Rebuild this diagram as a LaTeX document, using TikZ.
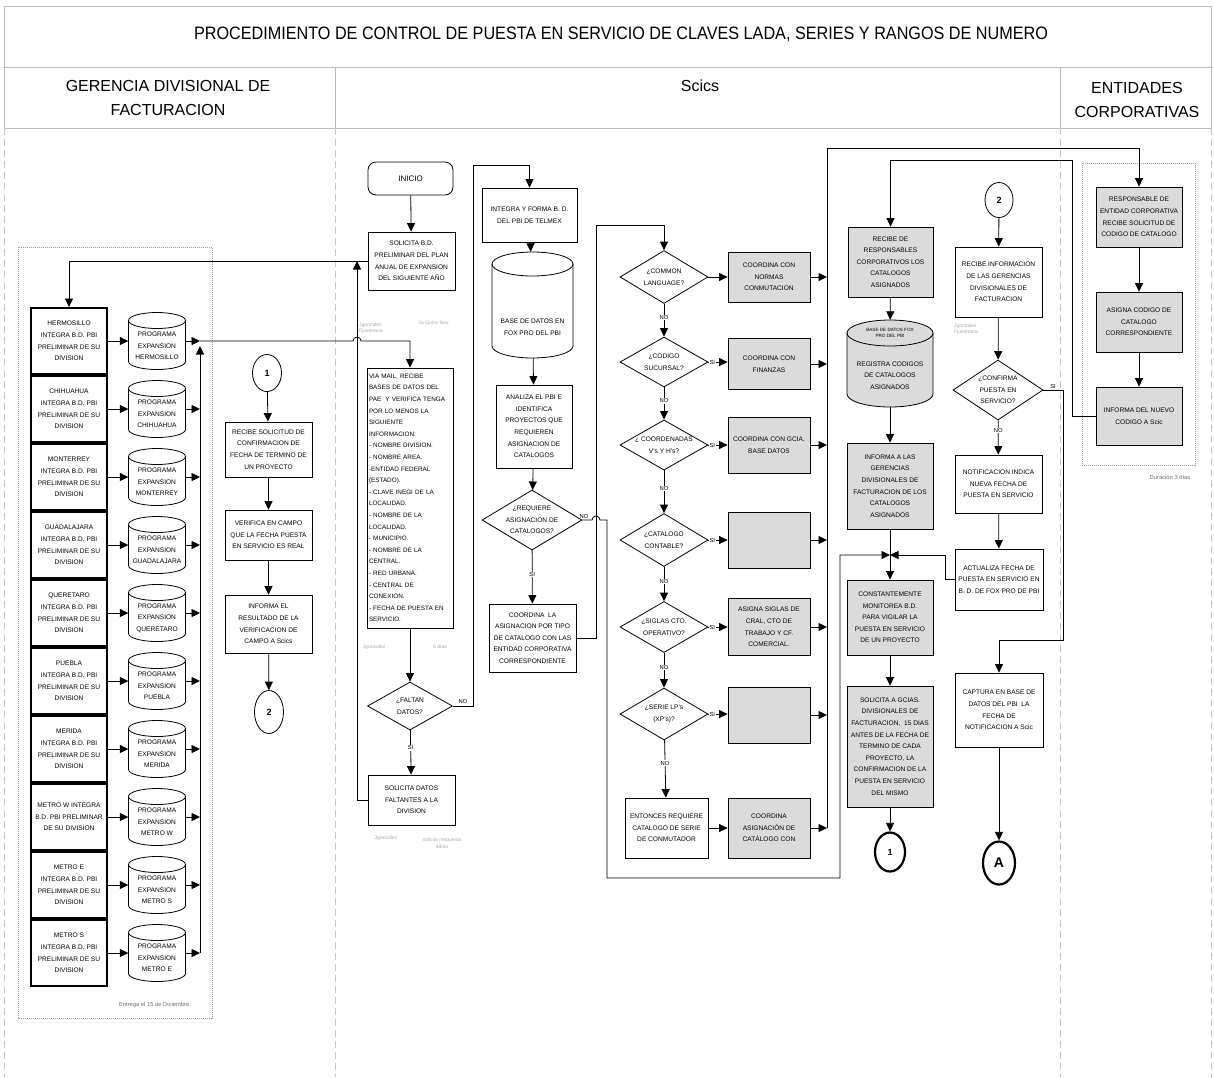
\documentclass[tikz,border=0pt]{standalone}
\usepackage{fontspec}
\usepackage{graphicx}
\setmainfont{Liberation Sans}
\usetikzlibrary{arrows.meta,shapes.geometric}

% database drum: name, cx, cy, width, height, cap radius, fill, text drop, text
\newcommand{\dbcyl}[9]{%
  \draw[line width=0.8pt, fill=#7] (#2-#4/2,#3-#5/2+#6) -- (#2-#4/2,#3+#5/2-#6)
    arc[start angle=180,end angle=360,x radius=#4pt/2,y radius=#6pt]
    -- (#2+#4/2,#3-#5/2+#6)
    arc[start angle=0,end angle=180,x radius=#4pt/2,y radius=#6pt] -- cycle;
  \draw[line width=0.8pt] (#2-#4/2,#3-#5/2+#6)
    arc[start angle=180,end angle=360,x radius=#4pt/2,y radius=#6pt];
  \node[minimum width=#4pt,minimum height=#5pt,inner sep=0pt] (#1) at (#2,#3) {};
  \node[align=center] at (#2,#3+#8) {#9};
}

\tikzset{
  box/.style={draw, line width=0.8pt, fill=white, align=center, inner sep=1.5pt},
  gbox/.style={box, fill=gray!28},
  tbox/.style={box, line width=2pt},
  dia/.style={draw, diamond, shape aspect=1.7, inner sep=0pt, line width=0.8pt, fill=white, align=center},
  conn/.style={draw, ellipse, inner sep=0pt, line width=0.8pt, fill=white, font=\fontsize{9}{9}\selectfont\bfseries},
  tconn/.style={conn, line width=2.2pt},
  arr/.style={line width=0.8pt, -{Triangle[length=8.5pt,width=8pt]}},
  ln/.style={line width=0.8pt},
  lbl/.style={font=\fontsize{5.8}{6}\selectfont, inner sep=0.6pt, fill=white},
  note/.style={font=\fontsize{5}{6.5}\selectfont, text=gray!70, align=left, inner sep=0pt},
  dnote/.style={font=\fontsize{5.8}{6.5}\selectfont, text=gray!85!black, inner sep=0pt},
  grp/.style={draw=gray!75, densely dotted, line width=1pt},
  lanehead/.style={font=\fontsize{16}{24}\selectfont, align=center},
  frame/.style={draw=gray!55, line width=0.8pt},
  lane/.style={draw=gray!45, line width=0.7pt, dash pattern=on 7pt off 4pt},
}

\begin{document}
\begin{tikzpicture}[x=1pt,y=-1pt, every node/.append style={font=\fontsize{6.6}{11.6}\selectfont}]
\useasboundingbox (0,0) rectangle (1214,1077);

% ---------- frame and lane headers ----------
\draw[frame] (4,6) -- (1211,6) (4,67) -- (1211,67) (4,128) -- (1211,128)
  (4,6) -- (4,128) (1211,6) -- (1211,128) (335,67) -- (335,128) (1060,67) -- (1060,128);
\draw[lane] (4,128) -- (4,1077) (335,128) -- (335,1077) (1060,128) -- (1060,1077) (1211,128) -- (1211,1077);

\node[font=\fontsize{18}{18}\selectfont] (title) at (621,34)
  {\scalebox{0.9}[1]{PROCEDIMIENTO DE CONTROL DE PUESTA EN SERVICIO DE CLAVES LADA, SERIES Y RANGOS DE NUMERO}};
\node[lanehead] (h1) at (168,98) {GERENCIA DIVISIONAL DE\\FACTURACION};
\node[lanehead] (h2) at (700,86) {Scics};
\node[lanehead] (h3) at (1137,100) {ENTIDADES\\CORPORATIVAS};

% ---------- divisional billing offices ----------
\draw[grp] (18,247) rectangle (212,1018);
\node[dnote] (entrega) at (155,1005) {Entrega el 15 de Diciembre.};

\foreach \i/\nm in {0/HERMOSILLO,1/CHIHUAHUA,2/MONTERREY,3/GUADALAJARA,4/QUERETARO,5/PUEBLA,6/MERIDA,8/METRO E,9/METRO S}{
  \node[tbox, minimum width=76pt, minimum height=66pt] (r\i) at (69,{341+68*\i})
    {\nm\\INTEGRA B.D. PBI\\PRELIMINAR DE SU\\DIVISION};
}
\node[tbox, minimum width=76pt, minimum height=66pt] (r7) at (69,817)
  {METRO W INTEGRA\\B.D. PBI PRELIMINAR\\DE SU DIVISION};

\foreach \i/\cn in {0/HERMOSILLO,1/CHIHUAHUA,2/MONTERREY,3/GUADALAJARA,4/QUERETARO,5/PUEBLA,6/MERIDA,7/METRO W,8/METRO S,9/METRO E}{
  \pgfmathsetmacro\yy{341+68*\i}
  \dbcyl{cy\i}{157}{\yy}{57}{57}{8}{white}{5}{PROGRAMA\\EXPANSION\\\cn}
}

\coordinate (bus) at (200,341);
\coordinate (busb) at (200,953);
\foreach \i in {0,...,9}{
  \draw[arr] (r\i.east) -- (cy\i.west);
  \draw[arr] (cy\i.east) -- (cy\i.east -| bus);
}
\draw[arr] (busb) -- ([yshift=-5pt]bus);

% field verification branch
\node[conn, minimum width=29pt, minimum height=37pt] (c1a) at (267,373) {1};
\node[box, minimum width=87pt, minimum height=55pt] (recsol) at (268.5,449.5)
  {RECIBE SOLICITUD DE\\CONFIRMACION DE\\FECHA DE TERMINO DE\\UN PROYECTO};
\node[box, minimum width=87pt, minimum height=50pt] (verif) at (268.5,535)
  {VERIFICA EN CAMPO\\QUE LA FECHA PUESTA\\EN SERVICIO ES REAL};
\node[box, minimum width=87pt, minimum height=58pt] (infres) at (268.5,624)
  {INFORMA EL\\RESULTADO DE LA\\VERIFICACION DE\\CAMPO A Scics};
\node[conn, minimum width=29pt, minimum height=43pt] (c2a) at (269,712) {2};
\draw[arr] (c1a) -- (recsol);
\draw[arr] (recsol) -- (verif);
\draw[arr] (verif) -- (infres);
\draw[arr] (infres) -- (c2a);

% ---------- Scics: request and validation ----------
\node[box, rounded corners=8pt, minimum width=85pt, minimum height=33pt, font=\fontsize{8}{9}\selectfont] (inicio) at (410.5,178.5) {INICIO};
\node[box, minimum width=87pt, minimum height=58pt] (solbd) at (411.5,261)
  {SOLICITA B.D.\\PRELIMINAR DEL PLAN\\ANUAL DE EXPANSION\\DEL SIGUIENTE AÑO};
\node[note] (n1) at (371,328) {Jgonzalez\\Fjuestrana};
\node[note] (n2) at (434,323) {2a Quinc Nov.};

\node[box, minimum width=86pt, minimum height=260pt, align=left, text width=82pt, inner sep=2pt,
      font=\fontsize{6.35}{11.6}\selectfont] (viamail) at (410,498)
  {VIA MAIL, RECIBE\\BASES DE DATOS DEL\\PAE\ \ Y VERIFICA TENGA\\POR LO MENOS LA\\SIGUIENTE\\INFORMACION:\\
   - NOMBRE DIVISION.\\- NOMBRE AREA.\\-ENTIDAD FEDERAL\\(ESTADO).\\- CLAVE INEGI DE LA\\LOCALIDAD.\\
   - NOMBRE DE LA\\LOCALIDAD.\\- MUNICIPIO.\\- NOMBRE DE LA\\CENTRAL.\\- RED URBANA.\\- CENTRAL DE\\CONEXION.\\
   - FECHA DE PUESTA EN\\SERVICIO.};
\node[note] (n3) at (374,647) {Jgonzalez};
\node[note] (n4) at (440,647) {5 días};

\node[dia, minimum width=85pt, minimum height=48pt] (faltan) at (410,706) {¿FALTAN\\DATOS?};
\node[box, minimum width=87pt, minimum height=50pt] (soldf) at (411.5,800)
  {SOLICITA DATOS\\FALTANTES A LA\\DIVISION};
\node[note] (n5) at (386,838) {Jgonzalez};
\node[note, align=center] (n6) at (442,843) {solicita respuesta\\4días};

\coordinate (j1) at (357,261);
\coordinate (bp1) at (357,341);
\coordinate (k1) at (473,165);

\draw[arr] (inicio) -- (solbd);
\draw[arr] (solbd.west) -| (r0.north);
\draw[arr] (soldf.west) -| (j1);
\draw[arr] (bus) -- ([xshift=-4pt]bp1) arc[start angle=180,end angle=0,radius=4pt] -| (viamail.north);
\draw[arr] (viamail) -- (faltan);
\draw[arr] (faltan) -- node[lbl, pos=0.4]{SI} (soldf);
\node[lbl, fill=none] (nofal) at (463,701) {NO};

% ---------- Scics: national PBI database ----------
\node[box, minimum width=95pt, minimum height=54pt] (integra) at (529.5,215)
  {INTEGRA Y FORMA B. D.\\DEL PBI DE TELMEX};
\dbcyl{dbfox}{532.5}{305}{81}{106}{12}{white}{22}{BASE DE DATOS EN\\FOX PRO DEL PBI}
\node[box, minimum width=76pt, minimum height=83pt] (analiza) at (534,426.5)
  {ANALIZA EL PBI E\\IDENTIFICA\\PROYECTOS QUE\\REQUIEREN\\ASIGNACION DE\\CATALOGOS};
\node[dia, minimum width=85pt, minimum height=60pt] (requiere) at (532,520)
  {¿REQUIERE\\ASIGNACION DE\\CATALOGOS?};
\node[box, minimum width=87pt, minimum height=68pt] (coordasig) at (532.5,638)
  {COORDINA\ \ LA\\ASIGNACION POR TIPO\\DE CATALOGO CON LAS\\ENTIDAD CORPORATIVA\\CORRESPONDIENTE};

\draw[arr] (faltan.east) -| (k1) -| (integra.north);
\draw[arr] (integra) -- (dbfox);
\draw[arr] (dbfox) -- (analiza);
\draw[arr] (analiza) -- (requiere);
\draw[arr] (requiere) -- node[lbl, pos=0.45]{SI} (coordasig);
\node[lbl, fill=none] (noreq) at (584,516) {NO};

% ---------- Scics: catalogue type decisions ----------
\node[dia, minimum width=88pt, minimum height=53pt] (d1) at (664,277) {¿COMMON\\LANGUAGE?};
\node[dia, minimum width=88pt, minimum height=50pt] (d2) at (664,362) {¿CODIGO\\SUCURSAL?};
\node[dia, minimum width=88pt, minimum height=50pt] (d3) at (664,445) {¿ COORDENADAS\\V's Y H's?};
\node[dia, minimum width=88pt, minimum height=53pt] (d4) at (664,540) {¿CATALOGO\\CONTABLE?};
\node[dia, minimum width=88pt, minimum height=51pt] (d5) at (664,627) {¿SIGLAS CTO.\\OPERATIVO?};
\node[dia, minimum width=88pt, minimum height=52pt] (d6) at (664,714) {¿SERIE LP's\\(XP's)?};
\node[box, minimum width=83pt, minimum height=60pt] (entonces) at (666.5,828)
  {ENTONCES REQUIERE\\CATALOGO DE SERIE\\DE CONMUTADOR};

\node[gbox, minimum width=82pt, minimum height=50pt] (b1) at (769,277) {COORDINA CON\\NORMAS\\CONMUTACION};
\node[gbox, minimum width=82pt, minimum height=51pt] (b2) at (769,364) {COORDINA CON\\FINANZAS};
\node[gbox, minimum width=82pt, minimum height=56pt] (b3) at (769,445) {COORDINA CON GCIA.\\BASE DATOS};
\node[gbox, minimum width=82pt, minimum height=56pt] (b4) at (769,540) {};
\node[gbox, minimum width=82pt, minimum height=57pt] (b5) at (769,627) {ASIGNA SIGLAS DE\\CRAL, CTO DE\\TRABAJO Y CF.\\COMERCIAL.};
\node[gbox, minimum width=82pt, minimum height=56pt] (b6) at (769,715) {};
\node[gbox, minimum width=82pt, minimum height=60pt] (b7) at (769,828) {COORDINA\\ASIGNACIÓN DE\\CATÁLOGO CON};

\coordinate (k2) at (596,225);
\coordinate (bp2) at (596,520);
\coordinate (k3) at (607,520);
\coordinate (k4) at (607,878);
\coordinate (k5) at (840,878);
\coordinate (vtop) at (827,148);
\coordinate (vbot) at (827,828);
\coordinate (m) at (890,555);

\draw[arr] (coordasig.east) -| (k2) -| (d1.north);
\draw[arr] (requiere.east) -- ([xshift=-4pt]bp2) arc[start angle=180,end angle=0,radius=4pt]
  -- (k3) -- (k4) -- (k5) |- (m);

\draw[arr] (d1) -- (b1);
\draw[arr] (d1) -- node[lbl, pos=0.42]{NO} (d2);
\draw[arr] (d2) -- node[lbl, pos=0.42]{NO} (d3);
\draw[arr] (d3) -- node[lbl, pos=0.42]{NO} (d4);
\draw[arr] (d4) -- node[lbl, pos=0.42]{NO} (d5);
\draw[arr] (d5) -- node[lbl, pos=0.42]{NO} (d6);
\draw[arr] (d6) -- node[lbl, pos=0.4]{NO} (entonces);
\foreach \d/\b in {d2/b2,d3/b3,d4/b4,d5/b5,d6/b6}{
  \draw[arr] (\d.east) -- node[lbl, pos=0.2]{SI} (\d.east -| \b.west);
}
\draw[arr] (entonces) -- (b7);
\foreach \b in {b1,b2,b3,b4,b5,b6}{
  \draw[arr] (\b.east) -- (\b.east -| vtop);
}
\draw[arr] (b7.east) -- (vbot);

% ---------- Scics: catalogue registration and follow-up ----------
\node[gbox, minimum width=85pt, minimum height=70pt] (recresp) at (890.5,262)
  {RECIBE DE\\RESPONSABLES\\CORPORATIVOS LOS\\CATALOGOS\\ASIGNADOS};
\dbcyl{regcyl}{890}{363.5}{86}{87}{13}{gray!28}{12}{REGISTRA CODIGOS\\DE CATALOGOS\\ASIGNADOS}
\node[font=\fontsize{4.6}{5.6}\selectfont, align=center, inner sep=0pt] (regtop) at (890,333) {BASE DE DATOS FOX\\PRO DEL PBI};
\node[gbox, minimum width=86pt, minimum height=86pt] (infger) at (890,486)
  {INFORMA A LAS\\GERENCIAS\\DIVISIONALES DE\\FACTURACION DE LOS\\CATALOGOS\\ASIGNADOS};
\node[gbox, minimum width=86pt, minimum height=75pt] (constant) at (890,617.5)
  {CONSTANTEMENTE\\MONITOREA B.D.\\PARA VIGILAR LA\\PUESTA EN SERVICIO\\DE UN PROYECTO};
\node[gbox, minimum width=86pt, minimum height=121pt] (solgcias) at (890,746.5)
  {SOLICITA A GCIAS.\\DIVISIONALES DE\\FACTURACION,\ \ 15 DIAS\\ANTES DE LA FECHA DE\\TERMINO DE CADA\\PROYECTO, LA\\CONFIRMACION DE LA\\PUESTA EN SERVICIO\\DEL MISMO};
\node[tconn, minimum width=30pt, minimum height=39pt] (c1b) at (890,852) {1};

\node[conn, minimum width=28pt, minimum height=35pt] (c2b) at (999,200) {2};
\node[box, minimum width=87pt, minimum height=70pt] (recinf) at (998.5,282)
  {RECIBE INFORMACION\\DE LAS GERENCIAS\\DIVISIONALES DE\\FACTURACION};
\node[note] (n7) at (966,329) {Jgonzalez\\Fjuestrana};
\node[dia, minimum width=90pt, minimum height=60pt] (confirma) at (998,390)
  {¿CONFIRMA\\PUESTA EN\\SERVICIO?};
\node[box, minimum width=87pt, minimum height=58pt] (notif) at (998.5,484)
  {NOTIFICACION INDICA\\NUEVA FECHA DE\\PUESTA EN SERVICIO};
\node[box, minimum width=88pt, minimum height=61pt] (actual) at (999,579.5)
  {ACTUALIZA FECHA DE\\PUESTA EN SERVICIO EN\\B. D. DE FOX PRO DE PBI};
\node[box, minimum width=88pt, minimum height=74pt] (captura) at (999,710)
  {CAPTURA EN BASE DE\\DATOS DEL PBI\ \ LA\\FECHA DE\\NOTIFICACION A Scic};
\node[tconn, minimum width=32pt, minimum height=43pt, font=\fontsize{14}{14}\selectfont\bfseries] (cA) at (999,863) {A};

\coordinate (k7) at (1072,160);
\coordinate (k8) at (945,555);
\coordinate (k9) at (1063,640);

\draw[arr] (recresp) -- (regcyl);
\draw[arr] (regcyl) -- (infger);
\draw[arr] (infger) -- (constant);
\draw[arr] (constant) -- (solgcias);
\draw[arr] (solgcias) -- (c1b);
\draw[arr] (actual.west) -| (k8) -- (m);

\draw[arr] (c2b) -- (recinf);
\draw[arr] (recinf) -- (confirma);
\draw[arr] (confirma) -- node[lbl, pos=0.3]{NO} (notif);
\draw[arr] (notif) -- (actual);
\draw[arr] (confirma.east) -| (k9) -| (captura.north);
\node[lbl, fill=none] (sicon) at (1053,386) {SI};
\draw[arr] (captura) -- (cA);

% ---------- corporate entities ----------
\draw[grp] (1082,163) rectangle (1195,465);
\node[dnote] (dur) at (1170,477) {Duración 3 días};
\node[gbox, minimum width=86pt, minimum height=60pt] (resp) at (1139,217)
  {RESPONSABLE DE\\ENTIDAD CORPORATIVA\\RECIBE SOLICITUD DE\\CODIGO DE CATALOGO};
\node[gbox, minimum width=86pt, minimum height=60pt] (asigna) at (1139,322)
  {ASIGNA CODIGO DE\\CATALOGO\\CORRESPONDIENTE};
\node[gbox, minimum width=86pt, minimum height=58pt] (infnuevo) at (1139,416)
  {INFORMA DEL NUEVO\\CODIGO A Scic};
\draw[arr] (vbot) -- (vtop) -| (resp.north);
\draw[arr] (resp) -- (asigna);
\draw[arr] (asigna) -- (infnuevo);
\draw[arr] (infnuevo.west) -| (k7) -| (recresp.north);

\end{tikzpicture}
\end{document}
